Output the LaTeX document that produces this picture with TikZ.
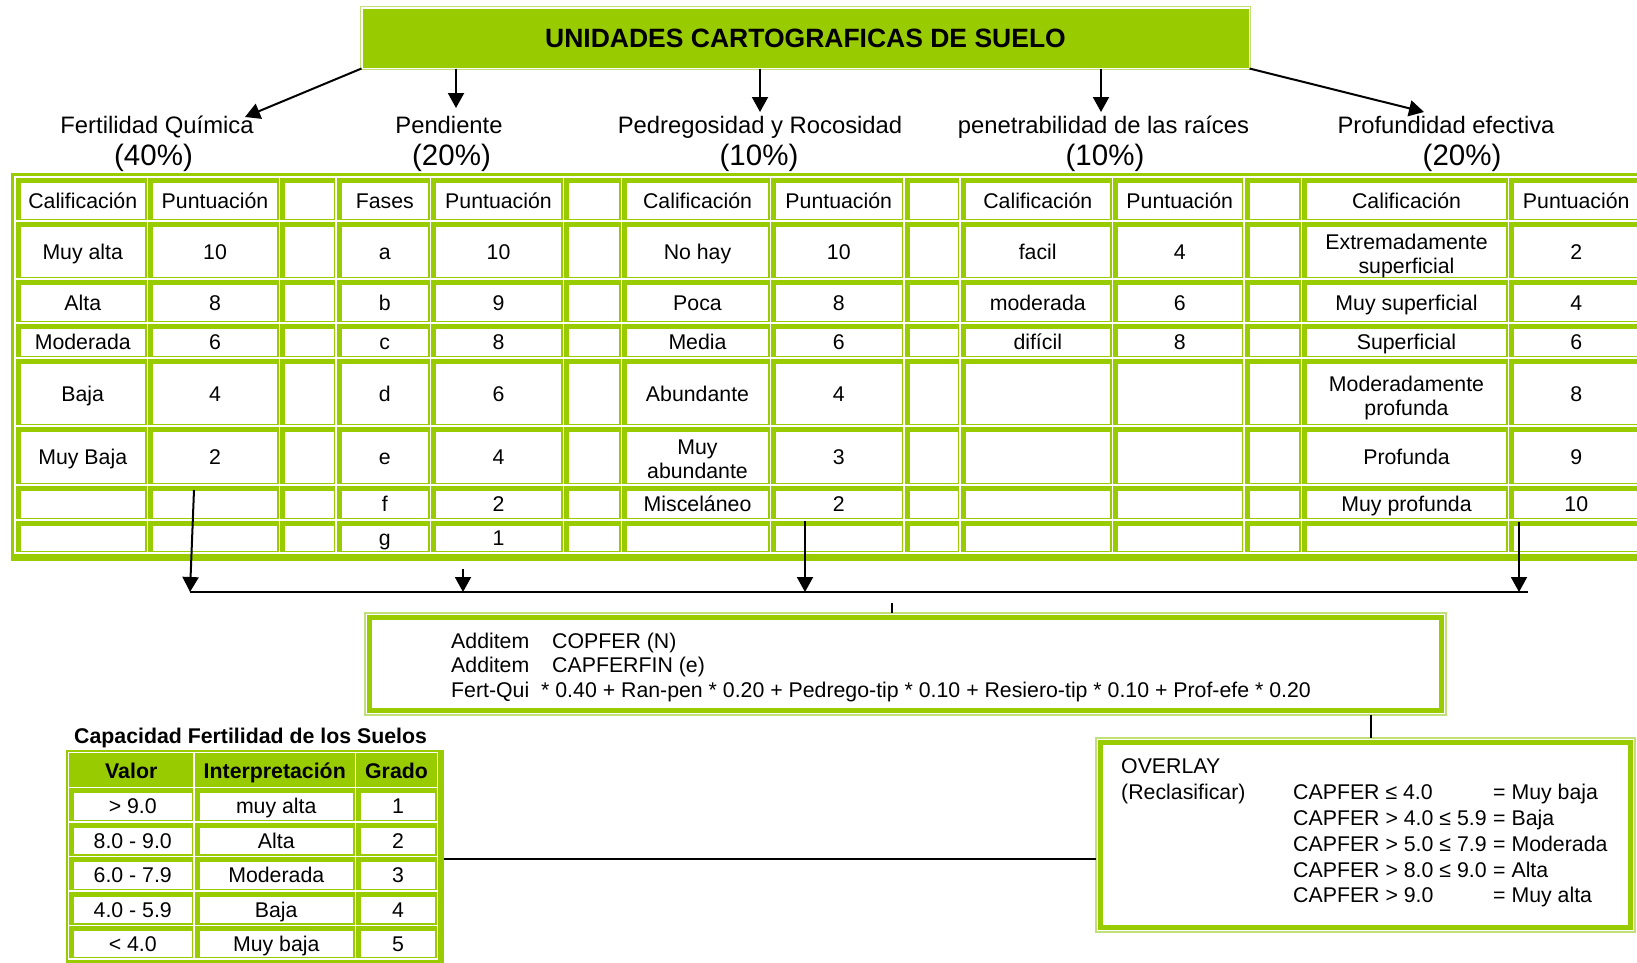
\documentclass[tikz,border=0pt]{standalone}
\usepackage{fontspec}
\setmainfont{Liberation Sans}
\usetikzlibrary{arrows.meta}
\definecolor{cg}{HTML}{99CC00}
\definecolor{lg}{HTML}{C2E07A}
\newcommand\cellstrut{\rule[-5pt]{0pt}{25.2pt}}
\newcommand\mlstrut{\rule{0pt}{24pt}}
\tikzset{
  cellin/.style={inner sep=0pt, outer sep=0pt, align=center, font=\fontsize{21.3}{24}\selectfont,
    execute at begin node=\cellstrut, execute at end node=\cellstrut},
  hdrcell/.style={inner sep=0pt, align=center, font=\bfseries\fontsize{21.3}{24}\selectfont},
  headname/.style={inner sep=0pt, anchor=base, font=\fontsize{23.8}{26}\selectfont},
  headpct/.style={inner sep=0pt, anchor=base, font=\fontsize{29.5}{30}\selectfont},
  txt/.style={inner sep=0pt, anchor=base west, font=\fontsize{21.3}{24}\selectfont},
  arr/.style={line width=2pt, -{Triangle[width=16pt,length=15pt]}},
  conn/.style={line width=1.8pt},
  boxframe/.style={draw=lg, line width=1.2pt, inner sep=0pt, outer sep=0pt},
  boxthick/.style={draw=cg, line width=4.5pt},
  tabframe/.style={fill=cg, inner sep=0pt, outer sep=0pt},
}
\def\colx{{15,147.5,279.5,336,430.5,563.5,621.5,770.5,904,960,1112.5,1244,1301.5,1508.5,1641}}
\def\rowy{{177,221,279,323,358,426,485,520,553}}
\def\bcolx{{68.5,194,355.5,437.5}}
\def\browy{{752.5,787.5,822,856.5,891,925.5,959}}
\newcommand\tcell[6]{%
  \draw[white, line width=1.2pt] (#2,#4) rectangle (#3,#5);
  \fill[white] ({#2+5.5},{#4+5.5}) rectangle ({#3-2.5},{#5-2.5});
  \node[cellin, minimum width={#3-#2-8}, minimum height={#5-#4-8}] (#1) at ({(#2+#3)/2+1.5},{(#4+#5)/2+1.5}) {#6};
}
\newcommand\mrow[2]{%
  \pgfmathsetmacro\ya{\rowy[#1]}%
  \pgfmathsetmacro\yb{\rowy[#1+1]}%
  \foreach \tx [count=\ci from 0] in {#2} {%
    \pgfmathsetmacro\xa{\colx[\ci]}%
    \pgfmathsetmacro\xb{\colx[\ci+1]}%
    \tcell{m-#1-\ci}{\xa}{\xb}{\ya}{\yb}{\tx}%
  }%
}
\newcommand\brow[2]{%
  \pgfmathsetmacro\ya{\browy[#1]}%
  \pgfmathsetmacro\yb{\browy[#1+1]}%
  \foreach \tx [count=\ci from 0] in {#2} {%
    \pgfmathsetmacro\xa{\bcolx[\ci]}%
    \pgfmathsetmacro\xb{\bcolx[\ci+1]}%
    \tcell{b-#1-\ci}{\xa}{\xb}{\ya}{\yb}{\tx}%
  }%
}
\begin{document}
\begin{tikzpicture}[x=1pt,y=-1pt]
\useasboundingbox (0,0) rectangle (1637,962);
\clip (0,0) rectangle (1637,962);
\fill[white] (0,0) rectangle (1637,962);
% title box
\draw[lg, line width=1.2pt] (360.5,6.5) rectangle (1250.5,69.5);
\node[fill=cg, draw=white, line width=1pt, minimum width=887, minimum height=60, inner sep=0pt,
  font=\bfseries\fontsize{26.5}{28}\selectfont] (title) at (805.5,38) {UNIDADES CARTOGRAFICAS DE SUELO};
% headings
\node[headname] (fq) at (157,133) {Fertilidad Química};
\node[headpct] (fqp) at (153.5,165) {(40\%)};
\node[headname] (pe) at (449,133) {Pendiente};
\node[headpct] (pep) at (451.5,165) {(20\%)};
\node[headname] (pr) at (760,133) {Pedregosidad y Rocosidad};
\node[headpct] (prp) at (759,165) {(10\%)};
\node[headname] (pn) at (1103.5,133) {penetrabilidad de las raíces};
\node[headpct] (pnp) at (1105,165) {(10\%)};
\node[headname] (pf) at (1446,133) {Profundidad efectiva};
\node[headpct] (pfp) at (1462,165) {(20\%)};
% arrows from title
\coordinate (tFQ) at (245,117);
\coordinate (tPE) at (456,108);
\coordinate (tPR) at (760,112);
\coordinate (tPN) at (1101,112);
\coordinate (tPF) at (1424,112);
\draw[arr] (title.south west) -- (tFQ);
\draw[arr] (title.south -| tPE) -- (tPE);
\draw[arr] (title.south -| tPR) -- (tPR);
\draw[arr] (title.south -| tPN) -- (tPN);
\draw[arr] (title.south east) -- (tPF);
% main table
\node[tabframe, minimum width=1635, minimum height=388] (mtab) at (828.5,367) {};
\mrow{0}{Calificación,Puntuación,{},Fases,Puntuación,{},Calificación,Puntuación,{},Calificación,Puntuación,{},Calificación,Puntuación}
\mrow{1}{Muy alta,10,{},a,10,{},No hay,10,{},facil,4,{},\mlstrut Extremadamente\\superficial,2}
\mrow{2}{Alta,8,{},b,9,{},Poca,8,{},moderada,6,{},Muy superficial,4}
\mrow{3}{Moderada,6,{},c,8,{},Media,6,{},difícil,8,{},Superficial,6}
\mrow{4}{Baja,4,{},d,6,{},Abundante,4,{},{},{},{},\mlstrut Moderadamente\\profunda,8}
\mrow{5}{Muy Baja,2,{},e,4,{},\mlstrut Muy\\abundante,3,{},{},{},{},Profunda,9}
\mrow{6}{{},{},{},f,2,{},Misceláneo,2,{},{},{},{},Muy profunda,10}
\mrow{7}{{},{},{},g,1,{},{},{},{},{},{},{},{},{}}
% arrows to bus
\coordinate (s1) at (194,490); \coordinate (j1) at (190,592);
\coordinate (s2) at (463,569); \coordinate (j2) at (463,592);
\coordinate (s3) at (805,521); \coordinate (j3) at (805,592);
\coordinate (s4) at (1519,522); \coordinate (j4) at (1519,592);
\coordinate (busE) at (1528,592);
\draw[conn] (j1) -- (busE);
\draw[arr] (s1) -- (j1);
\draw[arr] (s2) -- (j2);
\draw[arr] (s3) -- (j3);
\draw[arr] (s4) -- (j4);
% formula box
\node[boxframe, minimum width=1081, minimum height=102] (fbox) at (905.5,664) {};
\draw[boxthick] ([xshift=4.5pt,yshift=-4.5pt]fbox.north west) rectangle ([xshift=-4.5pt,yshift=4.5pt]fbox.south east);
\node[txt] (f1a) at (451,648) {Additem};
\node[txt] (f1b) at (552,648) {COPFER (N)};
\node[txt] (f2a) at (451,672) {Additem};
\node[txt] (f2b) at (552,672) {CAPFERFIN (e)};
\node[txt] (f3a) at (451,697) {Fert-Qui};
\node[txt] (f3b) at (541,697) {* 0.40 + Ran-pen * 0.20 + Pedrego-tip * 0.10 + Resiero-tip * 0.10 + Prof-efe * 0.20};
\coordinate (tk) at (892,603);
\draw[line width=1.5pt] (tk) -- (tk |- fbox.north);
% overlay box
\node[boxframe, minimum width=539, minimum height=194] (ovl) at (1365.5,835) {};
\draw[boxthick] ([xshift=4.5pt,yshift=-4.5pt]ovl.north west) rectangle ([xshift=-4.5pt,yshift=4.5pt]ovl.south east);
\node[txt] (o1) at (1121,773) {OVERLAY};
\node[txt] (o2) at (1121,799) {(Reclasificar)};
\node[txt] (c1) at (1293,799) {CAPFER ≤ 4.0};
\node[txt] (e1) at (1493,799) {= Muy baja};
\node[txt] (c2) at (1293,825) {CAPFER > 4.0 ≤ 5.9};
\node[txt] (e2) at (1493,825) {= Baja};
\node[txt] (c3) at (1293,851) {CAPFER > 5.0 ≤ 7.9};
\node[txt] (e3) at (1493,851) {= Moderada};
\node[txt] (c4) at (1293,877) {CAPFER > 8.0 ≤ 9.0};
\node[txt] (e4) at (1493,877) {= Alta};
\node[txt] (c5) at (1293,902) {CAPFER > 9.0};
\node[txt] (e5) at (1493,902) {= Muy alta};
\coordinate (k) at (1371,0);
\draw[conn] (fbox.south -| k) -- (ovl.north -| k);
% bottom table
\node[txt, font=\bfseries\fontsize{21.3}{24}\selectfont] (btitle) at (74,743) {Capacidad Fertilidad de los Suelos};
\node[tabframe, minimum width=378, minimum height=215] (btab) at (255,857.5) {};
\draw[white, line width=1.2pt] (68.5,752.5) rectangle (194,787.5);
\draw[white, line width=1.2pt] (194,752.5) rectangle (355.5,787.5);
\draw[white, line width=1.2pt] (355.5,752.5) rectangle (437.5,787.5);
\node[hdrcell, anchor=base] (bh0) at (131.25,778) {Valor};
\node[hdrcell, anchor=base] (bh1) at (274.75,778) {Interpretación};
\node[hdrcell, anchor=base] (bh2) at (396.5,778) {Grado};
\brow{1}{> 9.0,muy alta,1}
\brow{2}{8.0 - 9.0,Alta,2}
\brow{3}{6.0 - 7.9,Moderada,3}
\brow{4}{4.0 - 5.9,Baja,4}
\brow{5}{< 4.0,Muy baja,5}
\coordinate (h) at (0,859);
\draw[conn] (btab.east |- h) -- (ovl.west |- h);
\end{tikzpicture}
\end{document}
